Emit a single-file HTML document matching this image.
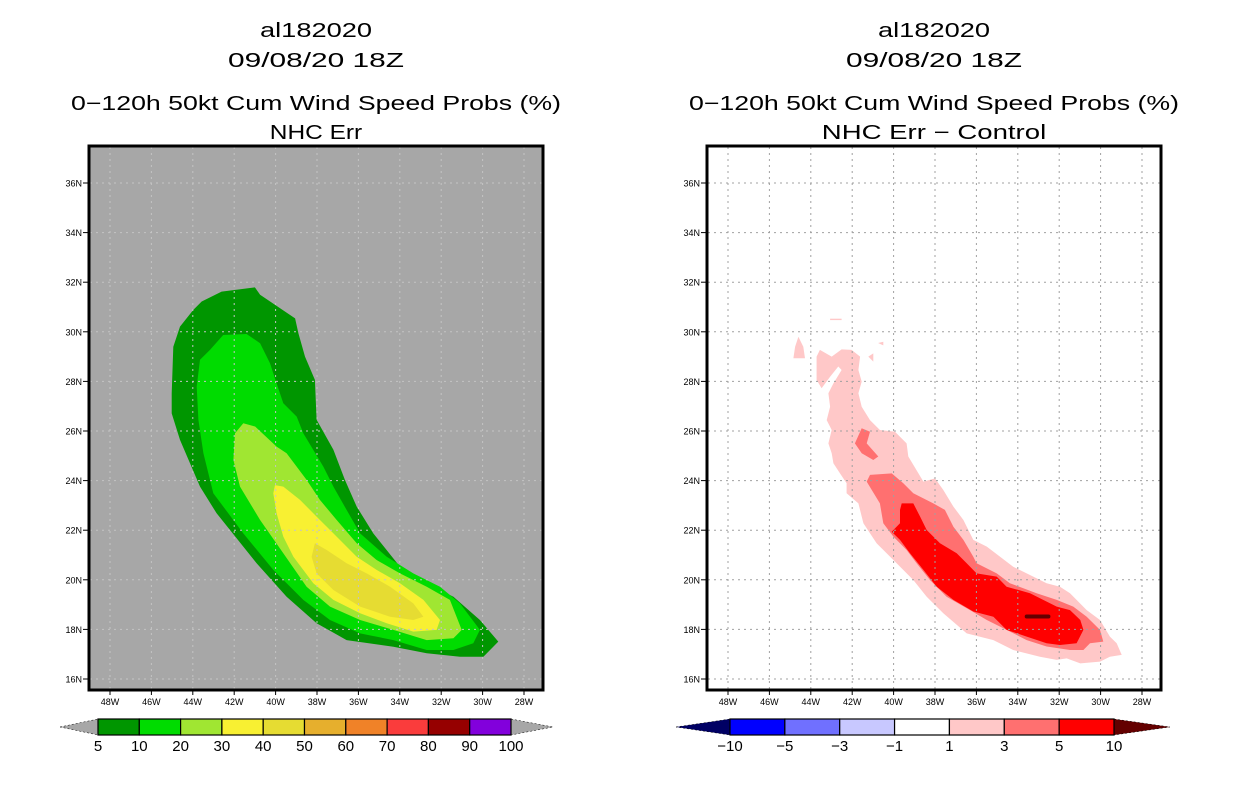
<!DOCTYPE html>
<html><head><meta charset="utf-8"><style>
html,body{margin:0;padding:0;background:#fff}
svg{display:block}
text{font-family:"Liberation Sans",sans-serif;fill:#000}
</style></head><body>
<svg id="chart" width="1236" height="800" viewBox="0 0 1236 800" xmlns="http://www.w3.org/2000/svg"></svg>
<script>
const lonTicks=[-48,-46,-44,-42,-40,-38,-36,-34,-32,-30,-28];
const latTicks=[16,18,20,22,24,26,28,30,32,34,36];
const leftLevels=["5","10","20","30","40","50","60","70","80","90","100"];
const leftColors=["#009600","#00dc00","#a0e632","#f8f032","#e6dc32","#e6af2d","#f08228","#fa3c3c","#960000","#8200dc"];
const rightLevels=["\u221210","\u22125","\u22123","\u22121","1","3","5","10"];
const rightColors=["#0000ff","#7070ff","#c8c8ff","#ffffff","#ffc8c8","#ff7070","#ff0000"];
const p5=[[-42.61,31.62],[-41.0,31.79],[-40.75,31.49],[-39.06,30.54],[-38.9,29.94],[-38.58,29.0],[-38.1,28.06],[-38.02,26.45],[-37.21,25.24],[-36.65,24.03],[-36.08,22.95],[-35.28,21.87],[-33.99,20.53],[-32.7,19.86],[-31.41,19.32],[-30.13,18.38],[-29.24,17.51],[-29.96,16.9],[-31.09,16.9],[-32.7,17.04],[-34.31,17.3],[-36.57,17.57],[-38.02,18.25],[-39.47,19.32],[-40.92,20.67],[-42.85,22.68],[-43.65,23.76],[-44.62,25.64],[-45.02,26.71],[-45.02,27.52],[-44.94,29.4],[-44.62,30.21],[-43.98,30.88],[-43.57,31.22]];
const p10=[[-42.53,29.87],[-41.4,29.91],[-40.75,29.54],[-40.27,28.73],[-39.95,27.92],[-39.63,27.12],[-38.98,26.58],[-38.66,25.91],[-37.69,24.56],[-37.21,23.76],[-36.57,22.82],[-35.92,21.87],[-34.635,20.93],[-33.35,20.26],[-32.06,19.72],[-31.09,19.05],[-30.13,17.98],[-30.45,17.44],[-31.41,17.17],[-32.7,17.17],[-34.31,17.57],[-35.92,17.84],[-37.37,18.38],[-38.66,19.19],[-40.11,20.4],[-41.56,21.87],[-43.01,23.49],[-43.49,25.1],[-43.73,26.45],[-43.81,27.79],[-43.65,28.87],[-43.17,29.27]];
const p20=[[-41.56,26.31],[-40.99,26.18],[-39.95,25.37],[-39.47,25.1],[-38.5,24.03],[-37.86,23.22],[-37.05,22.41],[-36.08,21.47],[-35.12,20.8],[-33.99,20.26],[-32.7,19.72],[-31.58,19.19],[-31.01,17.98],[-31.41,17.64],[-32.7,17.57],[-34.31,17.98],[-35.92,18.38],[-37.37,18.92],[-38.5,19.72],[-39.63,21.07],[-40.75,22.41],[-41.72,23.76],[-42.04,24.83],[-41.96,25.91]];
const p30=[[-40.03,23.82],[-39.63,23.76],[-38.82,23.22],[-38.02,22.55],[-37.21,21.87],[-36.08,20.93],[-35.12,20.4],[-33.99,19.86],[-32.86,19.19],[-32.06,18.38],[-32.22,17.98],[-33.35,17.91],[-34.635,18.25],[-35.92,18.65],[-37.21,19.19],[-38.18,19.86],[-39.14,20.93],[-39.63,21.74],[-39.95,22.68],[-40.11,23.49]];
const p40=[[-38.1,21.47],[-37.53,21.2],[-36.57,20.67],[-35.6,20.26],[-34.47,19.72],[-33.35,19.05],[-32.86,18.51],[-33.35,18.38],[-34.47,18.51],[-35.92,18.92],[-37.21,19.59],[-38.02,20.26],[-38.26,20.93]];
const d1=[[-43.72,29.0],[-43.56,29.27],[-42.99,29.0],[-42.51,29.29],[-42.03,29.27],[-41.62,29.0],[-41.7,28.46],[-41.54,27.99],[-41.7,27.52],[-41.54,26.98],[-41.14,26.44],[-40.66,26.04],[-39.93,25.97],[-39.37,25.5],[-39.29,24.97],[-38.56,23.96],[-38.0,24.09],[-37.6,23.62],[-37.11,22.95],[-36.63,22.41],[-36.15,21.61],[-35.5,21.34],[-34.22,20.53],[-33.57,20.26],[-32.61,19.86],[-31.96,19.72],[-31.48,19.46],[-30.67,18.78],[-30.03,18.38],[-29.55,17.71],[-29.22,17.44],[-28.98,16.97],[-29.55,16.9],[-30.03,16.7],[-30.98,16.63],[-31.64,16.83],[-32.12,16.77],[-32.93,16.9],[-34.22,17.17],[-35.18,17.57],[-36.47,17.84],[-37.6,18.65],[-38.4,19.32],[-39.05,19.99],[-40.01,20.8],[-40.82,21.47],[-41.46,22.28],[-41.7,23.08],[-42.27,23.49],[-42.27,23.89],[-42.59,24.29],[-42.91,24.7],[-42.99,25.1],[-43.15,25.5],[-42.99,26.04],[-43.23,26.44],[-43.07,26.98],[-43.15,27.52],[-42.91,27.92],[-42.51,28.46],[-42.67,28.6],[-43.07,28.19],[-43.48,27.72],[-43.72,28.06]];
const d1b=[[-44.6,29.8],[-44.36,29.4],[-44.28,28.93],[-44.84,28.93],[-44.76,29.4]];
const d1c=[[-41.22,29.0],[-40.98,29.13],[-40.98,28.8]];
const d1d=[[-40.75,29.55],[-40.5,29.6],[-40.5,29.45]];
const d1e=[[-43.07,30.53],[-42.51,30.53],[-42.51,30.47],[-43.07,30.47]];
const d3=[[-41.3,23.96],[-41.14,24.23],[-40.09,24.29],[-39.53,23.89],[-39.05,23.49],[-38.08,23.08],[-37.52,22.82],[-37.11,22.14],[-36.63,21.61],[-36.15,20.93],[-35.99,20.67],[-35.02,20.26],[-34.38,19.86],[-33.09,19.46],[-32.12,19.19],[-31.32,18.92],[-30.67,18.51],[-30.03,17.98],[-29.87,17.51],[-30.51,17.44],[-30.83,17.17],[-31.48,17.17],[-32.61,17.31],[-33.57,17.57],[-34.54,17.98],[-35.5,18.38],[-36.31,18.78],[-37.44,19.32],[-38.24,19.99],[-38.89,20.67],[-39.37,21.2],[-40.01,21.74],[-40.5,22.28],[-40.66,23.08]];
const d3b=[[-41.87,25.5],[-41.54,26.11],[-41.14,25.97],[-41.3,25.5],[-40.74,24.97],[-40.98,24.83],[-41.54,25.1]];
const d5=[[-39.61,23.08],[-39.05,23.08],[-38.72,22.55],[-38.4,22.01],[-37.76,21.47],[-36.95,21.07],[-36.47,20.67],[-35.99,20.26],[-35.02,20.13],[-34.54,19.72],[-33.41,19.46],[-32.12,18.92],[-31.48,18.78],[-30.98,18.38],[-30.83,17.98],[-31.16,17.44],[-31.96,17.37],[-32.61,17.44],[-33.57,17.71],[-34.54,17.98],[-35.18,18.51],[-36.15,18.72],[-37.11,19.19],[-37.92,19.72],[-38.56,20.4],[-39.21,21.07],[-39.69,21.61],[-40.09,21.94],[-39.69,22.28],[-39.69,22.82]];
const d5hole=[[-40.33,22.48],[-40.09,22.75],[-39.93,22.41]];
const d10=[[-33.57,18.52],[-32.52,18.52]];

const NS="http://www.w3.org/2000/svg";
const svg=document.getElementById('chart');
function mk(tag,attrs,parent){const e=document.createElementNS(NS,tag);for(const k in attrs)e.setAttribute(k,attrs[k]);(parent||svg).appendChild(e);return e;}
function txt(s,x,y,size,anchor,parent,len){const t=mk('text',{x:x,y:y,'font-size':size,'text-anchor':anchor||'middle'},parent);if(len){t.setAttribute('textLength',len);t.setAttribute('lengthAdjust','spacingAndGlyphs');}t.textContent=s;return t;}
function panel(off){return {x:lon=>110+off+(lon+48)*20.7,y:lat=>679-(lat-16)*24.8};}
function poly(ax,pts,fill,name,g){const p=mk('polygon',{points:pts.map(q=>ax.x(q[0]).toFixed(1)+','+ax.y(q[1]).toFixed(1)).join(' '),fill:fill},g);

return p;}

function drawPanel(off,title4,bg,gridColor,layers,name){
  const ax=panel(off);
  const g=mk('g',{});
  
  
  const cx=316+off;
  let t;
  t=txt('al182020',cx,37,20,'middle',g,112);
  t=txt('09/08/20 18Z',cx,67,20,'middle',g,176);
  t=txt('0\u2212120h 50kt Cum Wind Speed Probs (%)',cx,110,20,'middle',g,490);
  t=txt(title4,cx,139,20,'middle',g,title4.length*13.2);
  const r=mk('rect',{x:89+off,y:146,width:454,height:544,fill:bg},g);
  
  layers(ax,g);
  lonTicks.forEach(l=>{const x=ax.x(l);const ln=mk('line',{x1:x,y1:147,x2:x,y2:689,stroke:gridColor,'stroke-width':1,'stroke-dasharray':'2,4'},g);
    mk('line',{x1:x,y1:690,x2:x,y2:695,stroke:'#000'},g);
    const tl=txt(Math.abs(l)+'W',x,705,9,'middle',g);});
  latTicks.forEach(l=>{const y=ax.y(l);const ln=mk('line',{x1:90+off,y1:y,x2:542+off,y2:y,stroke:gridColor,'stroke-width':1,'stroke-dasharray':'2,4'},g);
    mk('line',{x1:83+off,y1:y,x2:89+off,y2:y,stroke:'#000'},g);
    const tl=txt(l+'N',82+off,y+3.5,9,'end',g);});
  const f=mk('rect',{x:89+off,y:146,width:454,height:544,fill:'none',stroke:'#000','stroke-width':3},g);
  
}
drawPanel(0,'NHC Err','#a7a7a7','#c4c4c4',(ax,g)=>{
  poly(ax,p5,leftColors[0],'contour-5',g);poly(ax,p10,leftColors[1],'contour-10',g);
  poly(ax,p20,leftColors[2],'contour-20',g);poly(ax,p30,leftColors[3],'contour-30',g);
  poly(ax,p40,leftColors[4],'contour-40',g);
},'left-panel');
drawPanel(618,'NHC Err \u2212 Control','#ffffff','#a0a0a0',(ax,g)=>{
  [d1,d1b,d1c,d1d,d1e].forEach(p=>poly(ax,p,rightColors[4],'diff-contour-1',g));
  [d3,d3b].forEach(p=>poly(ax,p,rightColors[5],'diff-contour-3',g));
  poly(ax,d5,rightColors[6],'diff-contour-5',g);
  poly(ax,d5hole,rightColors[5],'diff-contour-3-hole',g);
  const l=mk('line',{x1:ax.x(d10[0][0]),y1:ax.y(d10[0][1]),x2:ax.x(d10[1][0]),y2:ax.y(d10[1][1]),stroke:'#640000','stroke-width':4,'stroke-linecap':'round'},g);
  
},'right-panel');

function colorbar(x0,x1,x2,x3,cols,labels,lowC,highC,name){
  const g=mk('g',{});
  
  
  const y0=719,y1=735,ym=727;
  const lo=mk('polygon',{points:`${x0},${ym} ${x1},${y0} ${x1},${y1}`,fill:lowC,stroke:'#000','stroke-width':0.5,'stroke-dasharray':'2,2'},g);
  
  const hi=mk('polygon',{points:`${x2},${y0} ${x3},${ym} ${x2},${y1}`,fill:highC,stroke:'#000','stroke-width':0.5,'stroke-dasharray':'2,2'},g);
  
  const w=(x2-x1)/cols.length;
  cols.forEach((c,i)=>{const r=mk('rect',{x:x1+i*w,y:y0,width:w,height:y1-y0,fill:c,stroke:'#000','stroke-width':1.2},g);
    });
  labels.forEach((s,i)=>{const t=txt(s,x1+i*w,751,15,'middle',g);
    });
}
colorbar(60,98,511,553,leftColors,leftLevels,'#a7a7a7','#a7a7a7','left-colorbar');
colorbar(676,730,1114,1170,rightColors,rightLevels,'#000064','#640000','right-colorbar');
</script>
</body></html>
